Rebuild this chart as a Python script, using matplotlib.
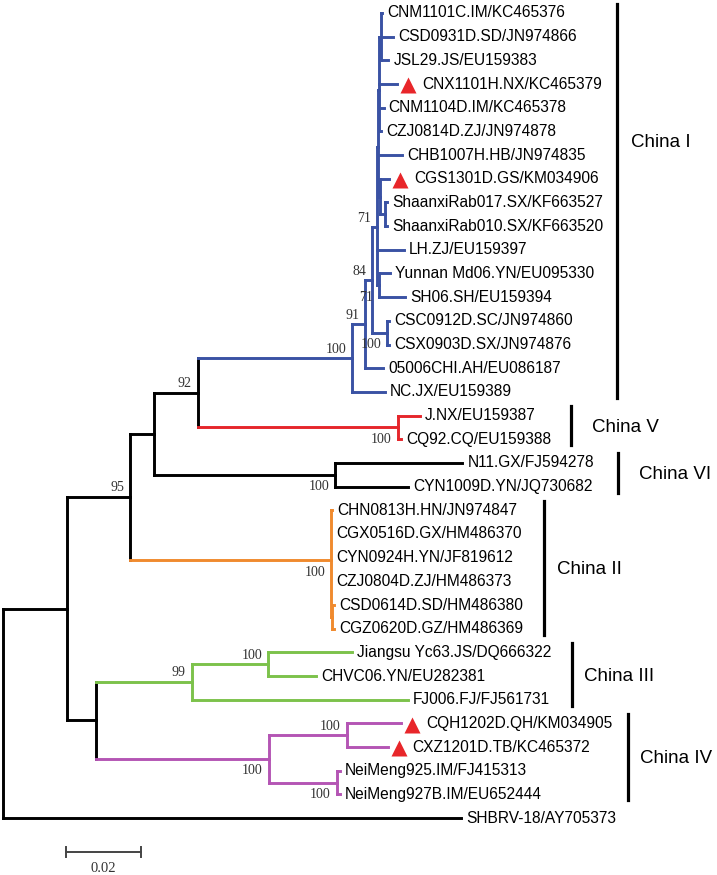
import numpy as np
import matplotlib.pyplot as plt

# tree as a parent table in pre-order (branch lengths = substitutions/site)
node = ["root", "nA", "nB", "nC", "n92", "nR", "n91", "n84", "nU", "nT2", "nT1", "nT0",
        "CNM1101C.IM/KC465376", "CSD0931D.SD/JN974866", "JSL29.JS/EU159383",
        "CNX1101H.NX/KC465379", "CNM1104D.IM/KC465378", "CZJ0814D.ZJ/JN974878",
        "CHB1007H.HB/JN974835", "nS", "CGS1301D.GS/KM034906", "nSX",
        "ShaanxiRab017.SX/KF663527", "ShaanxiRab010.SX/KF663520",
        "LH.ZJ/EU159397", "nYS", "Yunnan Md06.YN/EU095330", "SH06.SH/EU159394",
        "nCSCX", "CSC0912D.SC/JN974860", "CSX0903D.SX/JN974876",
        "05006CHI.AH/EU086187", "NC.JX/EU159389",
        "nRed", "J.NX/EU159387", "CQ92.CQ/EU159388",
        "nVI", "N11.GX/FJ594278", "CYN1009D.YN/JQ730682",
        "nO", "CHN0813H.HN/JN974847", "CGX0516D.GX/HM486370", "CYN0924H.YN/JF819612",
        "CZJ0804D.ZJ/HM486373", "nOS", "CSD0614D.SD/HM486380", "CGZ0620D.GZ/HM486369",
        "nD", "n99", "nG", "Jiangsu Yc63.JS/DQ666322", "CHVC06.YN/EU282381",
        "FJ006.FJ/FJ561731", "nP", "nPQ", "CQH1202D.QH/KM034905", "CXZ1201D.TB/KC465372",
        "nPN", "NeiMeng925.IM/FJ415313", "NeiMeng927B.IM/EU652444",
        "SHBRV-18/AY705373"]
parent = [None, "root", "nA", "nB", "nC", "n92", "nR", "n91", "n84", "nU", "nT2", "nT1",
          "nT0", "nT0", "nT0",
          "nT1", "nT1", "nT1",
          "nT2", "nT2", "nS", "nS",
          "nSX", "nSX",
          "nU", "nU", "nYS", "nYS",
          "n84", "nCSCX", "nCSCX",
          "n91", "nR",
          "n92", "nRed", "nRed",
          "nC", "nVI", "nVI",
          "nB", "nO", "nO", "nO",
          "nO", "nO", "nOS", "nOS",
          "nA", "nD", "n99", "nG", "nG",
          "n99", "nD", "nP", "nPQ", "nPQ",
          "nP", "nPN", "nPN",
          "root"]
branch_len = [0.0, 0.0171, 0.0168, 0.0064, 0.0117, 0.0411, 0.0035, 0.0019, 0.0011, 0.0005, 0.0003, 0.0005,
              0.0003, 0.0032, 0.0019,
              0.0048, 0.0011, 0.0005,
              0.0064, 0.0005, 0.0024, 0.0013,
              0.0005, 0.0005,
              0.0072, 0.0008, 0.0029, 0.0069,
              0.0040, 0.0005, 0.0005,
              0.0048, 0.0088,
              0.0533, 0.0059, 0.0008,
              0.0483, 0.0339, 0.0195,
              0.0536, 0.0003, 0.0001, 0.0001,
              0.0001, 0.0003, 0.0005, 0.0005,
              0.0077, 0.0256, 0.0203, 0.0224, 0.0128,
              0.0576, 0.0461, 0.0208, 0.0144, 0.0109,
              0.0181, 0.0008, 0.0008,
              0.1221]
bootstrap = {"nB": 95, "n92": 92, "nR": 100, "n91": 91, "n84": 84, "nU": 71, "nYS": 71,
             "nCSCX": 100, "nRed": 100, "nVI": 100, "nO": 100, "n99": 99, "nG": 100,
             "nP": 100, "nPQ": 100, "nPN": 100}

new_strains = ["CNX1101H.NX/KC465379", "CGS1301D.GS/KM034906",
               "CQH1202D.QH/KM034905", "CXZ1201D.TB/KC465372"]

clades = ["China I", "China V", "China VI", "China II", "China III", "China IV"]
clade_size = [17, 2, 2, 6, 3, 4]
clade_color = ["#3A52A4", "#E5262B", "black", "#F08A2E", "#7CC24B", "#B455B4"]

# layout (pixels of the 717x875 picture)
PX = 3750.0          # pixels per unit of distance
X0 = 3               # root x
ROW0, ROW = 13, 23.68
bar_px = [617, 571, 618, 544, 572, 628]
lab_px = [631, 592, 639, 557, 584, 640]
lab_row = [5.45, None, None, None, None, None]

# --- tree geometry
children = {n: [] for n in node}
for n, p in zip(node, parent):
    if p is not None:
        children[p].append(n)
depth = {}
for n, p, bl in zip(node, parent, branch_len):
    depth[n] = 0.0 if p is None else depth[p] + bl
leaves = [n for n in node if not children[n]]
ypos = {n: i for i, n in enumerate(leaves)}
for n in reversed(node):
    if children[n]:
        ypos[n] = np.mean([ypos[c] for c in children[n]])

leaf_clade = {}
k = 0
for ci, s in enumerate(clade_size):
    for lf in leaves[k:k + s]:
        leaf_clade[lf] = ci
    k += s
groups = {}
for n in reversed(node):
    if children[n]:
        groups[n] = set().union(*[groups[c] for c in children[n]])
    else:
        groups[n] = {leaf_clade.get(n, -1)}
color = {n: (clade_color[list(g)[0]] if len(g) == 1 and -1 not in g else "black")
         for n, g in groups.items()}

fig = plt.figure(figsize=(7.17, 8.75), dpi=100)
ax = fig.add_axes([0, 0, 1, 1])
ax.set_xlim(-X0 / PX, (717 - X0) / PX)
ax.set_ylim((875 - ROW0) / ROW, -ROW0 / ROW)
ax.axis("off")

lw = 2.1
for n, p in zip(node, parent):
    if p is not None:
        ax.plot([depth[p], depth[n]], [ypos[n], ypos[n]], color=color[n], lw=lw,
                solid_capstyle="projecting")
    if children[n]:
        ys = [ypos[c] for c in children[n]]
        ax.plot([depth[n], depth[n]], [min(ys), max(ys)], color=color[n], lw=lw,
                solid_capstyle="projecting")

sans = "Liberation Sans"
serif = "Liberation Serif"
pt = 0.72  # points per pixel

for lf in leaves:
    off = 5
    if lf in new_strains:
        ax.plot(depth[lf] + 11 / PX, ypos[lf] + 0.05, marker="^", ms=11, color="#E8262A",
                mec="none")
        off = 25
    ax.annotate(lf, (depth[lf], ypos[lf]), xytext=(off * pt, 0), textcoords="offset points",
                ha="left", va="center", fontsize=11.2, family=sans, color="black")

for n, b in bootstrap.items():
    p = parent[node.index(n)]
    first = children[p][0] == n
    dy = 9 if first else -12
    ax.annotate(str(b), (depth[n], ypos[n]), xytext=(-6 * pt, dy * pt),
                textcoords="offset points", ha="right", va="center",
                fontsize=10, family=serif, color="#333333")

k = 0
for ci, s in enumerate(clade_size):
    r0, r1 = k - 0.4, k + s - 1 + 0.25
    bx = (bar_px[ci] - X0) / PX
    ax.plot([bx, bx], [r0, r1], color="black", lw=2.3)
    ly = lab_row[ci] if lab_row[ci] is not None else (k + k + s - 1) / 2
    ax.text((lab_px[ci] - X0) / PX, ly, clades[ci], ha="left", va="center",
            fontsize=13.5, family=sans)
    k += s

# scale bar
sb_x = (66 - X0) / PX
sb_y = (852 - ROW0) / ROW
tick = 5 / ROW
ax.plot([sb_x, sb_x + 0.02], [sb_y, sb_y], color="#444444", lw=1.4)
ax.plot([sb_x, sb_x], [sb_y - tick, sb_y + tick], color="#444444", lw=1.4)
ax.plot([sb_x + 0.02, sb_x + 0.02], [sb_y - tick, sb_y + tick], color="#444444", lw=1.4)
ax.text(sb_x + 0.01, (868 - ROW0) / ROW, "0.02", ha="center", va="center",
        fontsize=10.5, family=serif, color="#333333")

fig.savefig("out.png", dpi=100)
